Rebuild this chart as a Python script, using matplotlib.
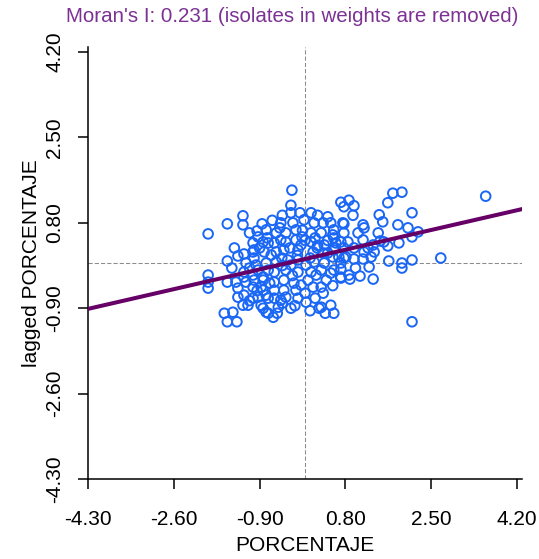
import matplotlib
matplotlib.use("Agg")
import matplotlib.pyplot as plt
import numpy as np

plt.rcParams["font.family"] = ["Liberation Sans", "DejaVu Sans"]

# -------------------------------------------------------------
# datos (leidos del grafico de GeoDa)
# -------------------------------------------------------------
porcentaje = [
    -1.92, -1.54, -1.23, -1.23, -1.92, -1.92, -1.92, -1.60, -1.43, -1.54, -1.35, -0.77,
    -0.95, -0.85, -0.77, -1.03, -0.83, -1.33, -1.21, -1.54, -1.01, -1.54, -1.37, -1.21,
    -1.17, -1.33, -1.33, -1.23, -1.03, -0.87, -1.01, -0.83, -0.77, -0.87, -0.73, -0.93,
    -1.01, -0.93, -0.73, -1.03, -0.81, -1.17, -0.97, -0.77, -1.21, -1.03, -0.83, -1.03,
    -0.83, -1.21, -0.93, -0.73, -1.13, -0.83, -0.73,
    -0.26, -0.28, -0.28, 0.12, -0.02, -0.48, -0.24, 0.18, 0.36, 0.51, 0.75, -0.57,
    -0.38, -0.18, 0.12, 0.32, 0.55, -0.61, -0.38, -0.18, 0.12, 0.38, 0.61, 0.85,
    -0.57, -0.42, -0.14, 0.16, 0.36, 0.55, 0.77, -0.57, -0.34, -0.14, 0.18, 0.38,
    0.71, -0.61, -0.38, -0.14, 0.12, 0.32, 0.51, 0.71, 0.87, -0.61, -0.42, -0.22,
    0.06, 0.16, -0.61, -0.42, -0.18, 0.32, 0.36, -0.61, -0.38, -0.14, 0.02, -0.53,
    -0.28, 0.32, 0.51, 0.57, 0.28, -0.63,
    0.71, 0.87, 0.77, 0.97, 1.74, 1.92, 1.64, 1.47, 1.54, 2.12, 3.58, 0.77,
    1.15, 1.17, 1.84, 2.04, 2.24, 2.12, 1.56, 1.64, 1.86, 1.49, 1.35, 1.15,
    0.77, 0.57, 0.57, 0.71, 0.77, 0.97, 0.57, 0.67, 0.81, 0.97, 1.15, 1.31,
    1.37, 1.17, 1.66, 1.92, 1.92, 2.12, 2.69, 0.57, 0.71, 0.71, 0.89, 1.09,
    1.27, 1.35, 2.12,
    -0.48, -0.08, 0.02, -0.28, 0.22, -0.08, -0.48, 0.42, -0.67, -0.46, -0.06, 0.24,
    -0.65, -0.45, -0.10, 0.25, 0.45, -0.75, -0.50, -0.05, 0.20, 0.45, -0.90, -0.30,
    0.00, 0.60, -1.10, -0.45, 0.10, 0.45, -0.70, -0.25, 0.00, 0.20, -0.95, -0.45,
    0.10, -1.10, -1.40, -1.45, -1.10, -0.55, 0.40, 1.05, 1.25, 1.00, 0.95, 1.45,
    0.25, -0.15, 0.55, -0.20,
]
lagged_porcentaje = [
    0.58, 0.78, 0.94, 0.76, -0.24, -0.38, -0.50, -1.00, -0.98, -1.17, -1.17, -0.98,
    0.64, 0.78, 0.66, 0.40, 0.42, 0.14, 0.18, 0.04, 0.10, -0.38, -0.38, -0.18,
    -0.38, -0.50, -0.68, -0.84, -0.70, -0.48, -0.34, -0.28, -0.64, -0.84, -0.14, -0.14,
    0.26, 0.52, 0.40, 0.22, 0.22, 0.00, -0.04, 0.00, -0.28, -0.24, -0.34, -0.48,
    -0.54, -0.64, -0.68, -0.70, -0.84, -0.90, -1.00,
    1.45, 1.15, 1.00, 1.00, 0.86, 0.80, 0.80, 0.80, 0.80, 0.80, 0.80, 0.60,
    0.60, 0.66, 0.60, 0.60, 0.56, 0.40, 0.42, 0.46, 0.42, 0.36, 0.40, 0.42,
    0.22, 0.26, 0.26, 0.22, 0.20, 0.12, 0.10, 0.02, 0.06, 0.06, 0.02, 0.00,
    0.00, -0.18, -0.14, -0.18, -0.18, -0.14, -0.20, -0.28, -0.24, -0.38, -0.34, -0.40,
    -0.34, -0.48, -0.54, -0.54, -0.54, -0.48, -0.60, -0.70, -0.68, -0.70, -0.78, -0.88,
    -0.90, -0.88, -0.84, -1.00, -0.90, -1.08,
    1.21, 1.25, 1.12, 1.14, 1.39, 1.41, 1.20, 0.96, 0.82, 1.00, 1.33, 0.78,
    0.76, 0.70, 0.76, 0.70, 0.62, 0.52, 0.42, 0.34, 0.40, 0.44, 0.36, 0.46,
    0.60, 0.66, 0.50, 0.42, 0.30, 0.30, 0.26, 0.12, 0.12, 0.08, 0.08, 0.12,
    0.22, 0.22, 0.04, 0.00, -0.10, 0.06, 0.10, -0.14, -0.12, -0.30, -0.32, -0.26,
    -0.08, -0.32, -1.17,
    0.46, 0.36, -0.04, -0.04, -0.24, -0.44, -0.74, -0.34, 0.16, 0.10, 0.52, 0.30,
    0.85, 0.95, 1.00, 0.95, 0.92, 0.50, 0.70, 0.65, 0.50, 0.45, 0.30, 0.30,
    0.45, 0.30, -0.10, -0.05, 0.10, 0.20, -0.40, -0.25, -0.60, -0.70, -0.55, -0.80,
    -0.95, 0.60, 0.30, -0.10, -0.75, -1.00, -1.00, 0.60, 0.30, -0.10, 0.95, 0.60,
    0.35, 0.15, -0.45, -0.85,
]
moran_i = 0.231
intercepto = 0.08
ticks = [-4.30, -2.60, -0.90, 0.80, 2.50, 4.20]
lim = (-4.30, 4.30)

# -------------------------------------------------------------
# figura
# -------------------------------------------------------------
fig = plt.figure(figsize=(5.39, 5.59), dpi=100)
ax = fig.add_axes([0.1633, 0.1431, 0.8052, 0.7728])

ax.axvline(0, color="#8c8c8c", lw=0.75, ls=(0, (4, 2)), zorder=1)
ax.axhline(0, color="#8c8c8c", lw=0.75, ls=(0, (4, 2)), zorder=1)

ax.scatter(porcentaje, lagged_porcentaje, s=48, facecolors="none",
           edgecolors="#1a66f5", linewidths=1.4, zorder=2)

xs = np.array(lim)
ax.plot(xs, intercepto + moran_i * xs, color="#660066", lw=2.9, zorder=3)

ax.set_xlim(lim)
ax.set_ylim(lim)
ax.set_xticks(ticks)
ax.set_yticks(ticks)
ax.set_xticklabels([f"{t:.2f}" for t in ticks])
ax.set_yticklabels([f"{t:.2f}" for t in ticks], rotation=90, va="center")
ax.tick_params(length=7, width=1.1, labelsize=15)
ax.tick_params(axis="x", pad=15)
ax.tick_params(axis="y", pad=10)

for s in ("top", "right"):
    ax.spines[s].set_visible(False)
for s in ("left", "bottom"):
    ax.spines[s].set_linewidth(1.1)

ax.set_xlabel("PORCENTAJE", fontsize=15, labelpad=5)
ax.set_ylabel("lagged PORCENTAJE", fontsize=15, labelpad=3)
fig.text(292 / 539, 1 - 17 / 559,
         "Moran's I: 0.231 (isolates in weights are removed)",
         color="#7b3294", fontsize=14.8, ha="center", va="center")

fig.savefig("out.png", dpi=100)
